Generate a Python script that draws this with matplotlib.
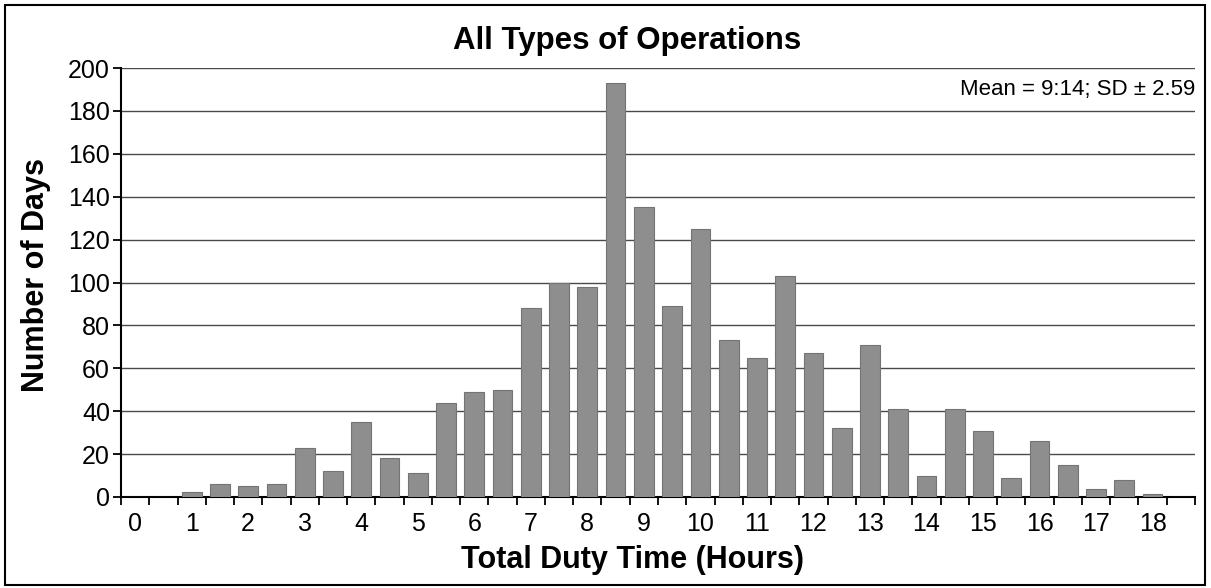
import matplotlib
matplotlib.use("Agg")
import matplotlib.pyplot as plt
from matplotlib.patches import Rectangle
import numpy as np

plt.rcParams['font.family'] = ['Liberation Sans', 'DejaVu Sans']

# Half-hour bins from 0 to 18.5 hours
hours = [i * 0.5 for i in range(38)]
days = [0, 0, 2.5, 6, 5, 6, 23, 12, 35, 18,
        11, 44, 49, 50, 88, 100, 98, 193, 135, 89,
        125, 73, 65, 103, 67, 32, 71, 41, 10, 41,
        31, 9, 26, 15, 3.5, 8, 1.5, 0]
tick_labels = [str(int(h)) if h == int(h) and h <= 18 else '' for h in hours]

title = "All Types of Operations"
xlabel = "Total Duty Time (Hours)"
ylabel = "Number of Days"
note = "Mean = 9:14; SD \u00b1 2.59"

fig = plt.figure(figsize=(12.11, 5.88), dpi=100)
ax = fig.add_axes([121/1211, 1 - 497/588, (1195 - 121)/1211, (497 - 68)/588])

x = np.arange(len(hours))
ax.bar(x, days, width=0.7, color='#8e8e8e', edgecolor='#747474', linewidth=0.8, zorder=3)

ax.set_xlim(-0.5, len(hours) - 0.5)
ax.set_ylim(0, 200)
ax.set_yticks(np.arange(0, 201, 20))
ax.yaxis.grid(True, color='#4a4a4a', linewidth=1.0, zorder=0)
ax.set_axisbelow(True)

# category ticks at slot boundaries, labels at slot centres
ax.set_xticks(np.arange(-0.5, len(hours), 1.0))
ax.set_xticklabels([])
ax.set_xticks(x, minor=True)
ax.set_xticklabels(tick_labels, minor=True, fontsize=18)
ax.tick_params(axis='x', which='minor', length=0, pad=11)
ax.tick_params(axis='x', which='major', length=6, width=1.3, direction='out', color='black')
ax.tick_params(axis='y', which='major', length=6, width=1.3, labelsize=18, pad=2, color='black')

for s in ['top', 'right']:
    ax.spines[s].set_visible(False)
ax.spines['left'].set_linewidth(1.5)
ax.spines['bottom'].set_linewidth(1.5)

ax.set_title(title, fontsize=22.5, fontweight='bold', pad=14, x=0.471)
ax.set_xlabel(xlabel, fontsize=22, fontweight='bold', labelpad=6, x=0.476)
ax.set_ylabel(ylabel, fontsize=22, fontweight='bold', labelpad=12, y=0.517)

ax.text(1.0, 0.95, note, transform=ax.transAxes, ha='right', va='center', fontsize=16)

fig.patches.append(Rectangle((5/1211, 3/588), 1200/1211, 580/588, transform=fig.transFigure,
                             fill=False, edgecolor='black', linewidth=1.5))

fig.savefig('out.png', dpi=100, facecolor='white')
